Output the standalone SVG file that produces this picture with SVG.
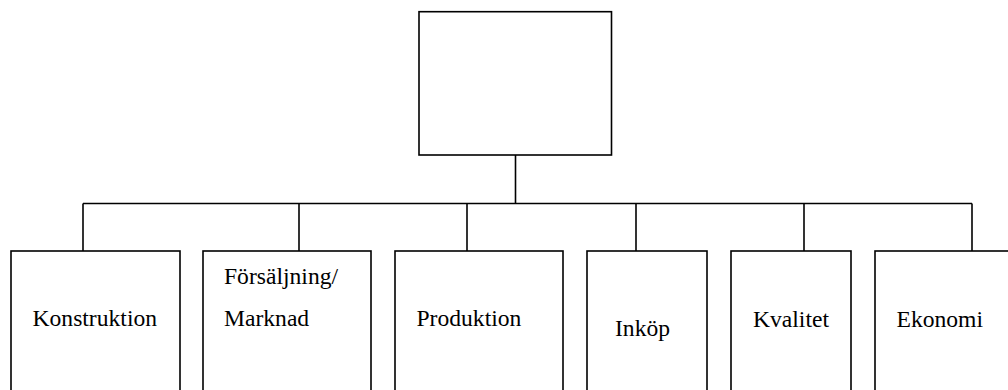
<svg xmlns="http://www.w3.org/2000/svg" width="1008" height="390" viewBox="0 0 1008 390">
  <style>
    .box { fill: #ffffff; stroke: #000000; stroke-width: 1.6; }
    .wire { fill: none; stroke: #000000; stroke-width: 1.6; }
    .lbl { font-family: 'Liberation Serif', 'Times New Roman', Times, serif; font-size: 23.6px; fill: #000000; }
  </style>
  <rect width="1008" height="390" fill="#ffffff"/>

  <!-- connectors -->
  <g id="connectors" class="wire">
    <path d="M515.5 155 V203.5"/>
    <path d="M83 203.5 H972"/>
    <path d="M83 203.5 V251"/>
    <path d="M299 203.5 V251"/>
    <path d="M467 203.5 V251"/>
    <path d="M636 203.5 V251"/>
    <path d="M804 203.5 V251"/>
    <path d="M972 203.5 V251"/>
  </g>

  <!-- head box -->
  <g id="top">
    <rect class="box" x="419" y="11.7" width="192.5" height="143.3"/>
  </g>

  <g id="konstruktion">
    <rect class="box" x="11" y="251" width="169" height="160"/>
    <text class="lbl" x="32.5" y="325.5">Konstruktion</text>
  </g>

  <g id="forsaljning">
    <rect class="box" x="203" y="251" width="168" height="160"/>
    <text class="lbl" x="224" y="284">Försäljning/</text>
    <text class="lbl" x="224" y="326">Marknad</text>
  </g>

  <g id="produktion">
    <rect class="box" x="395" y="251" width="168" height="160"/>
    <text class="lbl" x="416.5" y="325.5">Produktion</text>
  </g>

  <g id="inkop">
    <rect class="box" x="587" y="251" width="120" height="160"/>
    <text class="lbl" x="615" y="336">Inköp</text>
  </g>

  <g id="kvalitet">
    <rect class="box" x="731" y="251" width="120" height="160"/>
    <text class="lbl" x="753" y="326.5">Kvalitet</text>
  </g>

  <g id="ekonomi">
    <rect class="box" x="875" y="251" width="160" height="160"/>
    <text class="lbl" x="896.5" y="326.5">Ekonomi</text>
  </g>
</svg>
